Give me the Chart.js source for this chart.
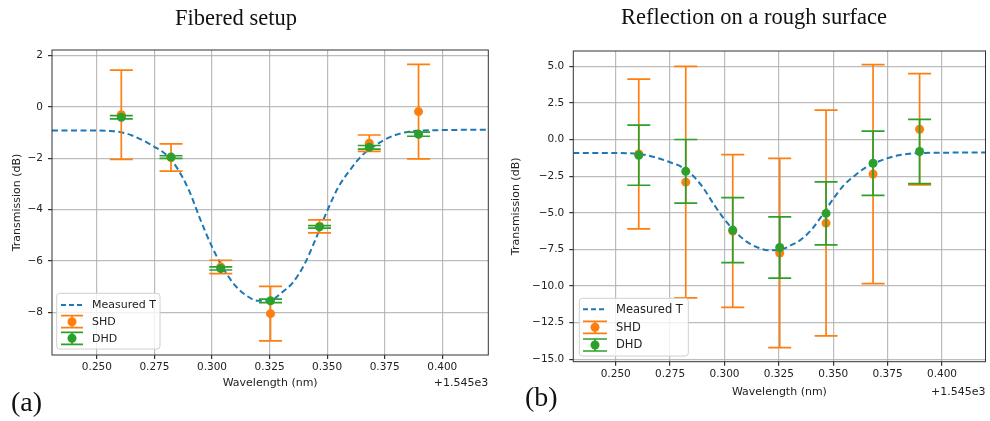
<!DOCTYPE html>
<html>
<head>
<meta charset="utf-8">
<script src="https://cdn.jsdelivr.net/npm/chart.js@4/dist/chart.umd.min.js"></script>
<style>
  body { margin: 0; background: #fff; }
  .panel { position: absolute; top: 0; width: 495px; height: 421px; }
</style>
</head>
<body>
<div class="panel" style="left:0"><canvas id="fib" width="495" height="421"></canvas></div>
<div class="panel" style="left:495px"><canvas id="ref" width="495" height="421"></canvas></div>
<script>
// wavelength offsets (nm, relative to 1545 nm)
const wavelengths = [0.2606, 0.2822, 0.3038, 0.3254, 0.3467, 0.3683, 0.3897];

// measured transmission curve
const curveX = [0.2305, 0.240, 0.250, 0.255, 0.260, 0.265, 0.270, 0.275, 0.280, 0.285, 0.290, 0.295,
  0.300, 0.305, 0.310, 0.315, 0.320, 0.325, 0.330, 0.335, 0.340, 0.345, 0.350, 0.355, 0.360, 0.365,
  0.370, 0.375, 0.380, 0.385, 0.390, 0.400, 0.410, 0.420];
const curveY = [-0.92, -0.92, -0.92, -0.93, -0.97, -1.10, -1.30, -1.55, -1.85, -2.40, -3.25, -4.40,
  -5.45, -6.30, -6.95, -7.35, -7.55, -7.55, -7.25, -6.85, -6.15, -5.15, -4.05, -3.10, -2.45, -1.90,
  -1.55, -1.27, -1.08, -0.97, -0.92, -0.90, -0.89, -0.89];

// (a) fibered setup
const shdFib = [-0.30, -1.97, -6.23, -8.05, -4.65, -1.41, -0.18];
const shdFibErr = [1.74, 0.53, 0.26, 1.06, 0.25, 0.32, 1.84];
const dhdFib = [-0.40, -1.95, -6.29, -7.55, -4.67, -1.57, -1.06];
const dhdFibErr = [0.06, 0.05, 0.06, 0.07, 0.05, 0.07, 0.08];

// (b) reflection on a rough surface
const shdRef = [-0.99, -2.91, -6.24, -7.74, -5.70, -2.36, 0.70];
const shdRefErr = [5.11, 7.90, 5.21, 6.46, 7.70, 7.47, 3.80];
const dhdRef = [-1.07, -2.17, -6.18, -7.37, -5.04, -1.62, -0.82];
const dhdRefErr = [2.05, 2.17, 2.22, 2.09, 2.15, 2.19, 2.19];

// tick labels
const xTicks = [0.250, 0.275, 0.300, 0.325, 0.350, 0.375, 0.400];
const yTicksFib = [2, 0, -2, -4, -6, -8];
const yTicksRef = [5, 2.5, 0, -2.5, -5, -7.5, -10, -12.5, -15];

const BLUE = '#1f77b4', ORANGE = '#ff7f0e', GREEN = '#2ca02c';
const SANS = "'DejaVu Sans', sans-serif";
const SERIF = "'Liberation Serif', 'Times New Roman', serif";

function minus(s) { return String(s).replace('-', '\u2212'); }

// error bars drawn just before each dataset's markers
const errorBars = {
  id: 'errorBars',
  beforeDatasetDraw(chart, args) {
    const ds = chart.data.datasets[args.index];
    if (!ds.errors) return;
    const ctx = chart.ctx, xs = chart.scales.x, ys = chart.scales.y;
    ctx.save();
    ctx.strokeStyle = ds.borderColor;
    ctx.lineWidth = 1.7;
    ds.data.forEach((p, i) => {
      const px = xs.getPixelForValue(p.x);
      const top = ys.getPixelForValue(p.y + ds.errors[i]);
      const bot = ys.getPixelForValue(p.y - ds.errors[i]);
      ctx.beginPath();
      ctx.moveTo(px, top); ctx.lineTo(px, bot);
      ctx.moveTo(px - 11.5, top); ctx.lineTo(px + 11.5, top);
      ctx.moveTo(px - 11.5, bot); ctx.lineTo(px + 11.5, bot);
      ctx.stroke();
    });
    ctx.restore();
  }
};

// frame, titles, labels, legend
const decor = {
  id: 'decor',
  afterDraw(chart, args, o) {
    const ctx = chart.ctx, a = chart.chartArea;
    ctx.save();
    ctx.strokeStyle = '#333';
    ctx.lineWidth = 1;
    ctx.strokeRect(a.left, a.top, a.right - a.left, a.bottom - a.top);

    ctx.fillStyle = '#111';
    ctx.textAlign = 'center';
    ctx.textBaseline = 'alphabetic';
    ctx.font = '22.5px ' + SERIF;
    ctx.fillText(o.title, o.titleX, o.titleY);
    ctx.textAlign = 'left';
    ctx.font = '28px ' + SERIF;
    ctx.fillText(o.tag, o.tagX, o.tagY);

    ctx.fillStyle = '#222';
    ctx.font = '11px ' + SANS;
    ctx.textAlign = 'center';
    ctx.textBaseline = 'middle';
    ctx.fillText('Wavelength (nm)', (a.left + a.right) / 2, o.xlabelY);
    ctx.textAlign = 'right';
    ctx.fillText('+1.545e3', a.right, o.xlabelY);
    ctx.save();
    ctx.translate(o.ylabelX, (a.top + a.bottom) / 2);
    ctx.rotate(-Math.PI / 2);
    ctx.textAlign = 'center';
    ctx.fillText('Transmission (dB)', 0, 0);
    ctx.restore();

    // legend
    const L = o.legend;
    ctx.fillStyle = 'rgba(255,255,255,0.8)';
    ctx.strokeStyle = '#d0d0d0';
    ctx.beginPath();
    ctx.roundRect(L.x, L.y, L.w, L.h, 3);
    ctx.fill(); ctx.stroke();
    const cx = (L.iconL + L.iconR) / 2;
    ctx.strokeStyle = BLUE; ctx.lineWidth = 2; ctx.setLineDash([5, 3]);
    ctx.beginPath(); ctx.moveTo(L.iconL, L.rows[0]); ctx.lineTo(L.iconR, L.rows[0]); ctx.stroke();
    ctx.setLineDash([]);
    [[ORANGE, L.rows[1]], [GREEN, L.rows[2]]].forEach(([c, y]) => {
      ctx.strokeStyle = c; ctx.lineWidth = 1.7;
      ctx.beginPath();
      ctx.moveTo(cx, y - 6); ctx.lineTo(cx, y + 6);
      ctx.moveTo(L.iconL, y - 6); ctx.lineTo(L.iconR, y - 6);
      ctx.moveTo(L.iconL, y + 6); ctx.lineTo(L.iconR, y + 6);
      ctx.stroke();
      ctx.fillStyle = c;
      ctx.beginPath(); ctx.arc(cx, y, 4.5, 0, Math.PI * 2); ctx.fill();
    });
    ctx.fillStyle = '#222';
    ctx.font = L.font + 'px ' + SANS;
    ctx.textAlign = 'left';
    ctx.textBaseline = 'middle';
    ['Measured T', 'SHD', 'DHD'].forEach((t, i) => ctx.fillText(t, L.textX, L.rows[i] + 0.5));
    ctx.restore();
  }
};

function makeChart(id, p) {
  const pts = (ys) => wavelengths.map((x, i) => ({ x: x, y: ys[i] }));
  return new Chart(document.getElementById(id), {
    type: 'scatter',
    data: {
      datasets: [
        {
          label: 'Measured T',
          data: curveX.map((x, i) => ({ x: x, y: curveY[i] })),
          showLine: true, borderColor: BLUE, borderWidth: 2, borderDash: [6, 3.5],
          pointRadius: 0, cubicInterpolationMode: 'monotone', order: 3
        },
        {
          label: 'SHD', data: pts(p.shd), errors: p.shdErr,
          borderColor: ORANGE, backgroundColor: ORANGE, pointRadius: 4.5, pointBorderWidth: 0, order: 2
        },
        {
          label: 'DHD', data: pts(p.dhd), errors: p.dhdErr,
          borderColor: GREEN, backgroundColor: GREEN, pointRadius: 4.5, pointBorderWidth: 0, order: 1
        }
      ]
    },
    options: {
      responsive: false,
      animation: false,
      layout: { padding: p.padding },
      plugins: { legend: { display: false }, tooltip: { enabled: false }, decor: p.decor },
      scales: {
        x: {
          type: 'linear', min: 0.2305, max: 0.4200,
          afterBuildTicks: (s) => { s.ticks = xTicks.map(v => ({ value: v })); },
          afterFit: (s) => { s.height = p.xAxisH; },
          border: { display: false },
          grid: { color: 'rgba(176,176,176,0.85)', lineWidth: 1.2, tickLength: 4, tickColor: '#333' },
          ticks: { color: '#222', padding: 2, maxRotation: 0, font: { family: SANS, size: 10.5 },
            callback: (v) => Number(v).toFixed(3) }
        },
        y: {
          type: 'linear', min: p.yMin, max: p.yMax,
          afterBuildTicks: (s) => { s.ticks = p.yTicks.map(v => ({ value: v })); },
          afterFit: (s) => { s.width = p.yAxisW; },
          border: { display: false },
          grid: { color: 'rgba(176,176,176,0.85)', lineWidth: 1.2, tickLength: 4, tickColor: '#333' },
          ticks: { color: '#222', padding: 5, font: { family: SANS, size: 10.5 },
            callback: (v) => minus(Number(v).toFixed(p.yDec)) }
        }
      }
    },
    plugins: [errorBars, decor]
  });
}

makeChart('fib', {
  shd: shdFib, shdErr: shdFibErr, dhd: dhdFib, dhdErr: dhdFibErr,
  yMin: -9.66, yMax: 2.22, yTicks: yTicksFib, yDec: 0,
  padding: { left: 0, top: 50, right: 6.7, bottom: 0 }, yAxisW: 52, xAxisH: 66,
  decor: {
    title: 'Fibered setup', titleX: 236, titleY: 25, tag: '(a)', tagX: 11, tagY: 411,
    xlabelY: 383, ylabelX: 17,
    legend: { x: 56.7, y: 293.3, w: 103.3, h: 55.7, rows: [305, 321.7, 338.3],
      iconL: 61, iconR: 83, textX: 92, font: 11 }
  }
});

makeChart('ref', {
  shd: shdRef, shdErr: shdRefErr, dhd: dhdRef, dhdErr: dhdRefErr,
  yMin: -15.16, yMax: 6.04, yTicks: yTicksRef, yDec: 1,
  padding: { left: 0, top: 51, right: 0.7, bottom: 0 }, yAxisW: 78.3, xAxisH: 59.3,
  decor: {
    title: 'Reflection on a rough surface', titleX: 259, titleY: 24, tag: '(b)', tagX: 30, tagY: 406,
    xlabelY: 392, ylabelX: 21,
    legend: { x: 84.3, y: 298.3, w: 109, h: 57.7, rows: [309.3, 327.3, 345],
      iconL: 88, iconR: 112, textX: 121, font: 11.5 }
  }
});
</script>
</body>
</html>
